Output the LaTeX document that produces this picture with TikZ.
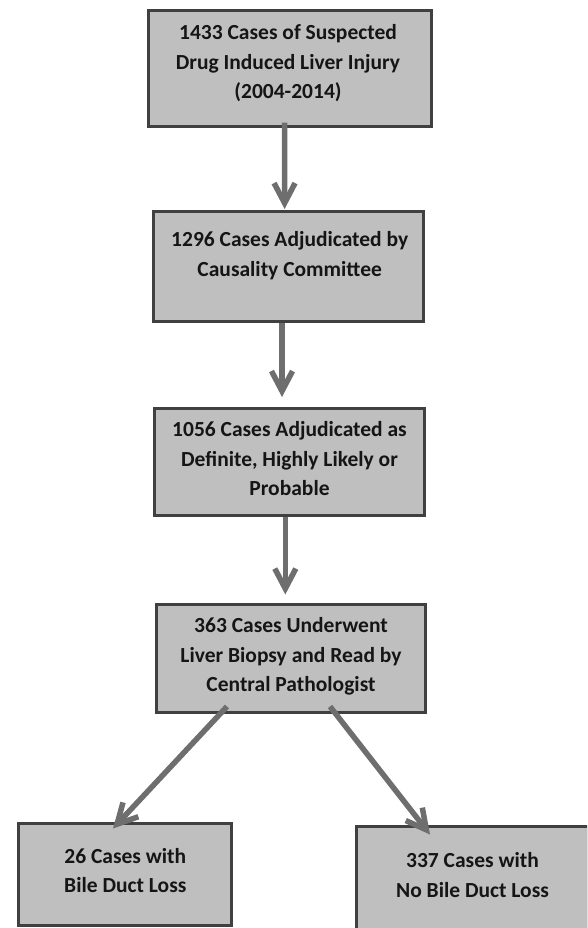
\documentclass[tikz,border=0pt]{standalone}
\usepackage{fontspec}
\setmainfont{Carlito}
\usetikzlibrary{arrows.meta}
\definecolor{boxfill}{HTML}{BFBFBF}
\definecolor{boxline}{HTML}{404040}
\definecolor{arrowcol}{HTML}{6E6E6E}
\definecolor{txt}{HTML}{151515}
\tikzset{
  flowbox/.style={draw=boxline, fill=boxfill, line width=3pt, inner sep=0pt, minimum width=#1},
  boxtext/.style={align=center, inner sep=0pt, text=txt, font=\fontsize{21.5}{29.5}\selectfont\bfseries},
  arr/.style={draw=arrowcol, line width=5.5pt, -{Straight Barb[length=20pt,width=21pt]}}
}
\begin{document}
\begin{tikzpicture}[x=1pt,y=-1pt]
\clip (0,0) rectangle (587,928);
\fill[white] (0,0) rectangle (587,928);
% boxes
\node[flowbox=282.7pt, minimum height=115.4pt] (b1) at (290.2,68.5) {};
\node[flowbox=270pt, minimum height=110pt] (b2) at (288.5,266.5) {};
\node[flowbox=270pt, minimum height=107pt] (b3) at (289.5,462) {};
\node[flowbox=269pt, minimum height=108pt] (b4) at (291,658.5) {};
\node[flowbox=213pt, minimum height=102pt] (b5) at (125,874.5) {};
\node[flowbox=232pt, minimum height=114pt] (b6) at (472.5,883.5) {};
% texts
\node[boxtext] (t1) at (288,63.3) {\strut 1433 Cases of Suspected\\Drug Induced Liver Injury\\(2004-2014)\strut};
\node[boxtext] (t2) at (289.7,255.5) {\strut 1296 Cases Adjudicated by\\Causality Committee\strut};
\node[boxtext] (t3) at (289.5,460.3) {\strut 1056 Cases Adjudicated as\\Definite, Highly Likely or\\Probable\strut};
\node[boxtext] (t4) at (291,656.3) {\strut 363 Cases Underwent\\Liver Biopsy and Read by\\Central Pathologist\strut};
\node[boxtext] (t5) at (125.3,872.1) {\strut 26 Cases with\\Bile Duct Loss\strut};
\node[boxtext] (t6) at (472.5,876.6) {\strut 337 Cases with\\No Bile Duct Loss\strut};
% connectors
\draw[arr] ([xshift=-5.7pt,yshift=5pt]b1.south) -- ([xshift=-3.9pt,yshift=1pt]b2.north);
\draw[arr] ([xshift=-6.5pt,yshift=0pt]b2.south) -- ([xshift=-7.5pt,yshift=10pt]b3.north);
\draw[arr] ([xshift=-4.2pt,yshift=0pt]b3.south) -- ([xshift=-5.7pt,yshift=8.5pt]b4.north);
\draw[arr] ([xshift=-64pt,yshift=7.5pt]b4.south) -- ([xshift=-12pt,yshift=-6.5pt]b5.north);
\draw[arr] ([xshift=39pt,yshift=7.5pt]b4.south) -- ([xshift=-42.5pt,yshift=-9.5pt]b6.north);
\end{tikzpicture}
\end{document}
